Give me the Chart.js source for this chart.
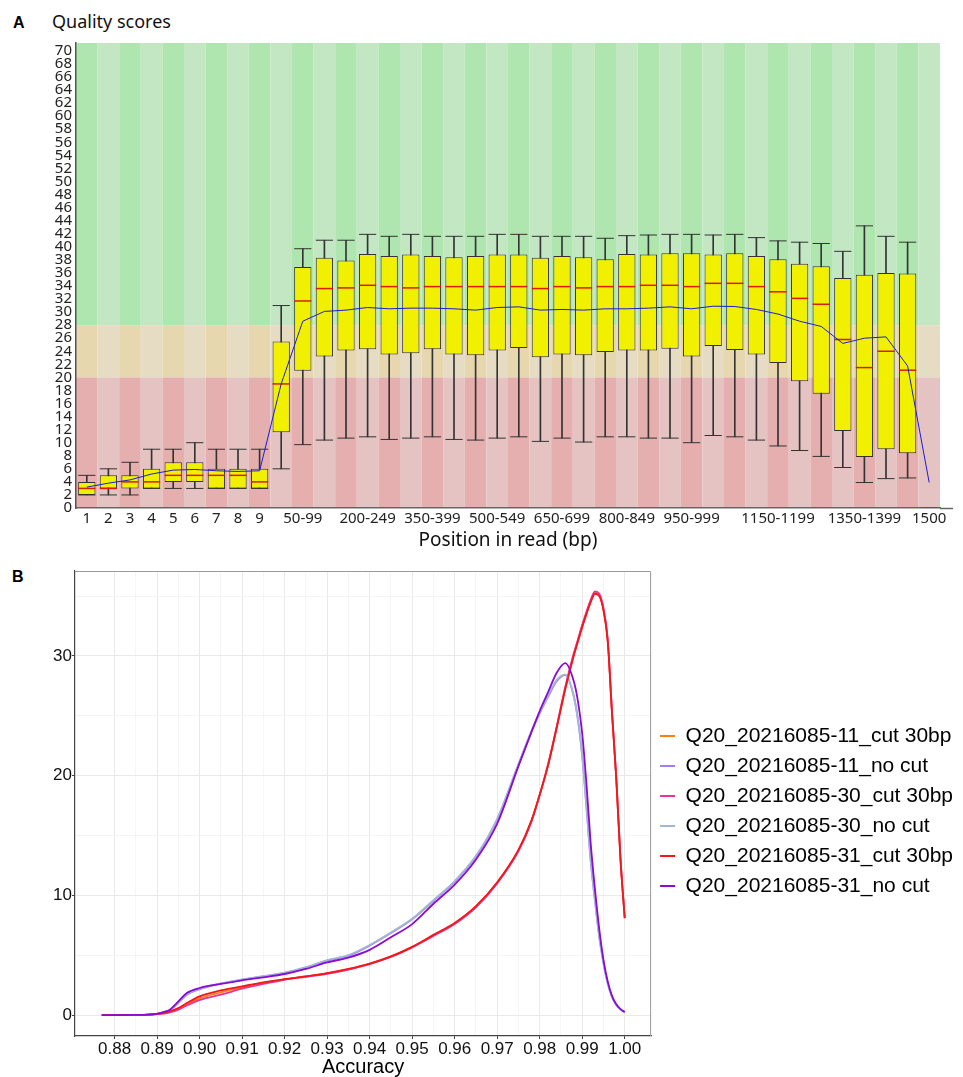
<!DOCTYPE html>
<html lang="en">
<head>
<meta charset="UTF-8">
<title>Quality scores / Accuracy</title>
<script src="https://cdn.jsdelivr.net/npm/chart.js"></script>
<style>
  body { margin: 0; background: #fff; }
  #wrap { position: relative; width: 963px; height: 1077px; overflow: hidden; }
  .panel { position: absolute; left: 0; width: 963px; }
  .tag { position: absolute; font-family: "Liberation Sans", Arial, sans-serif; font-weight: bold; font-size: 16px; line-height: 16px; color: #000; }
  .ptitle { position: absolute; left: 52px; top: 10px; font-family: "Noto Sans", sans-serif; font-size: 18px; line-height: 22px; color: #111; }
</style>
</head>
<body>
<div id="wrap">
  <div class="tag" style="left:13px; top:15px;">A</div>
  <div class="ptitle">Quality scores</div>
  <div class="panel" style="top:0; height:560px;"><canvas id="qualityChart"></canvas></div>
  <div class="tag" style="left:12px; top:569px;">B</div>
  <div class="panel" style="top:560px; height:517px;"><canvas id="accuracyChart"></canvas></div>
</div>
<script>
// ---- panel A: per base quality ----
const positions = ['1','2','3','4','5','6','7','8','9','10-49','50-99','100-149','150-199','200-249','250-299',
  '300-349','350-399','400-449','450-499','500-549','550-599','600-649','650-699','700-749','750-799','800-849',
  '850-899','900-949','950-999','1000-1049','1050-1099','1100-1149','1150-1199','1200-1249','1250-1299',
  '1300-1349','1350-1399','1400-1449','1450-1499','1500'];
const shownPositions = ['1','2','3','4','5','6','7','8','9','50-99','200-249','350-399','500-549','650-699',
  '800-849','950-999','1150-1199','1350-1399','1500'];

const lowWhisker = [2,2,2,3,3,3,3,3,3,6, 9.7,10.4,10.7,10.9,10.5,10.7,10.9,10.5,10.4,10.7,
  10.9,10.2,10.7,10.1,10.9,10.9,10.7,10.7,10.0,11.1, 10.9,10.4,9.5,8.8,7.9,6.2,3.9,4.5,4.6,null];
const lowerQuartile = [2,3,3,3,4,4,3,3,3,11.6, 21.0,23.2,24.1,24.3,23.5,23.7,24.3,23.5,23.4,24.1,
  24.5,23.1,23.5,23.4,23.9,24.1,24.1,24.4,23.2,24.8, 24.2,23.5,22.2,19.4,17.5,11.8,7.8,9.0,8.4,null];
const medianQ = [3,3,4,4,5,5,5,5,4,19, 31.7,33.6,33.7,34.1,33.9,33.7,33.9,33.9,33.9,33.9,
  33.9,33.6,33.9,33.7,33.9,33.9,34.1,34.1,33.9,34.4, 34.4,33.9,33.1,32.1,31.2,25.8,21.5,24.0,21.1,0];
const upperQuartile = [4,5,5,6,7,7,6,6,6,25.5, 36.9,38.3,37.9,38.9,38.6,38.8,38.6,38.4,38.6,38.8,
  38.8,38.3,38.6,38.4,38.1,38.9,38.8,39.0,39.0,38.8, 39.0,38.6,38.1,37.4,37.0,35.2,35.7,36.0,35.9,null];
const highWhisker = [5,6,7,9,9,10,9,9,9,31, 39.7,41.0,41.0,41.9,41.6,41.9,41.6,41.6,41.6,41.9,
  41.9,41.6,41.6,41.6,41.3,41.7,41.8,41.9,41.9,41.8, 41.9,41.4,40.9,40.7,40.5,39.3,43.2,41.6,40.7,null];
const meanQ = [3.2,3.8,4.3,5.2,5.8,5.9,5.7,5.6,5.7,19.0, 28.6,30.1,30.3,30.7,30.5,30.6,30.6,30.5,30.3,30.7,
  30.8,30.3,30.4,30.3,30.5,30.5,30.6,30.8,30.5,30.9, 30.85,30.4,29.7,28.6,27.8,25.2,26.0,26.2,21.75,3.9];

// ---- panel B: accuracy density ----
const accuracy = [0.877,0.880,0.885,0.888,0.890,0.892,0.893,0.895,0.897,0.900,0.905,0.910,0.915,0.920,0.925,
  0.930,0.935,0.940,0.945,0.950,0.955,0.960,0.965,0.970,0.975,0.978,0.980,0.982,0.984,0.986,0.988,0.989,
  0.990,0.991,0.992,0.993,0.994,0.995,0.996,0.997,0.998,0.999,1.000];
const cut11 = [0,0,0.01,0.03,0.09,0.17,0.26,0.5,0.9,1.4,1.9,2.3,2.68,2.98,3.22,3.48,3.82,4.28,4.88,5.68,
  6.65,7.65,9.05,11.05,13.75,16.15,18.4,20.95,24.05,27.3,30.1,31.3,32.5,33.6,34.6,35.3,35.1,33.9,31.3,25.3,19.8,13.0,8.1];
const nocut11 = [0,0,0.01,0.04,0.1,0.27,0.4,1.0,1.7,2.15,2.62,2.95,3.22,3.52,3.97,4.55,4.95,5.8,6.85,8.0,
  9.55,11.15,13.25,16.35,20.9,23.6,25.2,26.6,27.9,28.4,26.7,24.7,21.7,17.4,12.9,9.6,6.6,4.35,2.65,1.55,0.88,0.47,0.26];
const cut30 = [0,0,0.01,0.03,0.08,0.15,0.22,0.45,0.8,1.25,1.7,2.2,2.6,2.95,3.2,3.45,3.8,4.25,4.85,5.65,
  6.6,7.6,9.0,11.0,13.7,16.1,18.4,21.0,24.1,27.4,30.2,31.4,32.6,33.7,34.7,35.4,35.2,34.0,31.4,25.4,19.9,13.1,8.1];
const nocut30 = [0,0,0.01,0.04,0.1,0.28,0.42,1.05,1.75,2.2,2.65,2.98,3.25,3.55,4.0,4.6,5.0,5.85,6.9,8.05,
  9.6,11.2,13.3,16.4,21.0,23.7,25.3,26.7,28.0,28.45,26.6,24.6,21.6,17.3,12.8,9.5,6.5,4.3,2.6,1.5,0.85,0.45,0.25];
const cut31 = [0,0,0.01,0.04,0.1,0.2,0.3,0.58,1.0,1.56,2.06,2.4,2.73,3.0,3.23,3.5,3.85,4.3,4.9,5.7,
  6.7,7.7,9.1,11.1,13.8,16.2,18.4,20.9,24.0,27.2,30.0,31.2,32.4,33.5,34.5,35.2,35.0,33.8,31.2,25.2,19.8,13.0,8.1];
const nocut31 = [0,0,0.01,0.04,0.1,0.3,0.45,1.14,1.84,2.26,2.6,2.9,3.15,3.43,3.85,4.4,4.8,5.45,6.5,7.6,
  9.3,10.9,13.0,16.0,20.8,23.6,25.4,27.0,28.6,29.4,27.9,26.2,23.5,19.3,14.3,10.5,7.2,4.6,2.8,1.6,0.9,0.5,0.25];

const sampleNames = ['Q20_20216085-11_cut 30bp','Q20_20216085-11_no cut','Q20_20216085-30_cut 30bp',
  'Q20_20216085-30_no cut','Q20_20216085-31_cut 30bp','Q20_20216085-31_no cut'];
const sampleColors = ['#ff7f0e','#a07ff0','#e8339c','#a3b7d3','#f21818','#8a0ad6'];
const sampleSeries = [cut11, nocut11, cut30, nocut30, cut31, nocut31];

// FastQC background bands
const stripes = {
  id: 'stripes',
  beforeDraw(chart) {
    const {ctx, chartArea: a, scales: {x, y}} = chart;
    const w = (a.right - a.left) / positions.length;
    const y28 = y.getPixelForValue(28), y20 = y.getPixelForValue(20);
    ctx.save();
    positions.forEach((p, i) => {
      const cx = x.getPixelForValue(i) - w / 2;
      const dark = i % 2 === 0;
      ctx.fillStyle = dark ? 'rgb(175,230,175)' : 'rgb(195,230,195)';
      ctx.fillRect(cx, a.top, w, y28 - a.top);
      ctx.fillStyle = dark ? 'rgb(230,215,175)' : 'rgb(230,220,195)';
      ctx.fillRect(cx, y28, w, y20 - y28);
      ctx.fillStyle = dark ? 'rgb(230,175,175)' : 'rgb(230,195,195)';
      ctx.fillRect(cx, y20, w, a.bottom - y20);
    });
    // axis line runs a little past the last column
    ctx.strokeStyle = '#666';
    ctx.lineWidth = 1.5;
    ctx.beginPath();
    ctx.moveTo(a.right, a.bottom + 0.5);
    ctx.lineTo(a.right + 13, a.bottom + 0.5);
    ctx.stroke();
    ctx.restore();
  }
};

new Chart(document.getElementById('qualityChart'), {
  type: 'bar',
  data: {
    labels: positions,
    datasets: [
      {
        type: 'line', label: 'mean', data: meanQ, order: 0,
        borderColor: '#1c1cd8', borderWidth: 1, pointRadius: 0, tension: 0
      },
      {
        type: 'line', label: 'median', data: medianQ, order: 1, showLine: false,
        pointStyle: 'line', pointRadius: 8.6, pointBorderColor: '#e01a00', pointBorderWidth: 1.5
      },
      {
        type: 'line', label: '90th', data: highWhisker, order: 2, showLine: false,
        pointStyle: 'line', pointRadius: 8.6, pointBorderColor: '#333', pointBorderWidth: 1
      },
      {
        type: 'line', label: '10th', data: lowWhisker, order: 2, showLine: false,
        pointStyle: 'line', pointRadius: 8.6, pointBorderColor: '#333', pointBorderWidth: 1
      },
      {
        label: 'box', order: 3, grouped: false,
        data: lowerQuartile.map((q, i) => q === null ? null : [q, upperQuartile[i]]),
        backgroundColor: '#f0f000', borderColor: '#333', borderWidth: 1, borderSkipped: false,
        barPercentage: 0.8, categoryPercentage: 1
      },
      {
        label: 'whisker', order: 4, grouped: false,
        data: lowWhisker.map((l, i) => l === null ? null : [l, highWhisker[i]]),
        backgroundColor: '#333', borderWidth: 0, barThickness: 1
      }
    ]
  },
  options: {
    responsive: true,
    maintainAspectRatio: false,
    animation: false,
    events: [],
    layout: { padding: { top: 43, right: 23, left: 0, bottom: 0 } },
    plugins: { legend: { display: false }, tooltip: { enabled: false } },
    scales: {
      x: {
        grid: { display: false, drawTicks: false },
        border: { display: true, color: '#666', width: 1.5 },
        afterFit: (s) => { s.height = 52; },
        ticks: {
          autoSkip: false, maxRotation: 0, minRotation: 0, padding: 2,
          color: '#222', font: { family: 'Noto Sans', size: 15 },
          callback: function (v) {
            const lab = this.getLabelForValue(v);
            return shownPositions.includes(lab) ? lab : '';
          }
        },
        title: {
          display: true, text: 'Position in read (bp)', color: '#111',
          font: { family: 'Noto Sans', size: 19 }, padding: { top: 0, bottom: 8 }
        }
      },
      y: {
        min: 0, max: 71.2,
        grid: { display: false, drawTicks: false },
        border: { display: true, color: '#555', width: 1.5 },
        afterFit: (s) => { s.width = 76; },
        afterBuildTicks: (s) => {
          const t = [];
          for (let v = 0; v <= 70; v += 2) t.push({ value: v });
          s.ticks = t;
        },
        ticks: { autoSkip: false, padding: 4, color: '#222', font: { family: 'Noto Sans', size: 15 } }
      }
    }
  },
  plugins: [stripes]
});

// panel border (grey) on top/right
const panelBorder = {
  id: 'panelBorder',
  afterDraw(chart) {
    const {ctx, chartArea: a} = chart;
    ctx.save();
    ctx.strokeStyle = '#9a9a9a';
    ctx.lineWidth = 1;
    ctx.beginPath();
    ctx.moveTo(a.left, a.top + 0.5);
    ctx.lineTo(a.right - 0.5, a.top + 0.5);
    ctx.lineTo(a.right - 0.5, a.bottom);
    ctx.stroke();
    ctx.restore();
  }
};

const isMajor = (v, step) => Math.abs(v / step - Math.round(v / step)) < 1e-6;

new Chart(document.getElementById('accuracyChart'), {
  type: 'line',
  data: {
    datasets: sampleSeries.map((s, i) => ({
      label: sampleNames[i],
      data: s.map((v, j) => ({ x: accuracy[j], y: v })),
      borderColor: sampleColors[i],
      backgroundColor: sampleColors[i],
      borderWidth: 1.8,
      pointRadius: 0,
      cubicInterpolationMode: 'monotone',
      order: sampleSeries.length - 1 - i
    }))
  },
  options: {
    responsive: true,
    maintainAspectRatio: false,
    animation: false,
    events: [],
    layout: { padding: { top: 11, right: 0, left: 0, bottom: 0 } },
    plugins: {
      tooltip: { enabled: false },
      legend: {
        position: 'right', reverse: true, maxWidth: 313, align: 'start',
        // empty title only used as a spacer to drop the entries to mid height
        title: { display: true, text: ' ', font: { size: 10, lineHeight: 1 }, padding: { top: 0, bottom: 135.5 } },
        labels: {
          boxWidth: 15, boxHeight: 2, padding: 9, color: '#000',
          font: { family: 'Liberation Sans', size: 21 },
          generateLabels: (chart) => Chart.defaults.plugins.legend.labels.generateLabels(chart)
            .map((l) => Object.assign(l, { lineWidth: 0 }))
        }
      }
    },
    scales: {
      x: {
        type: 'linear', min: 0.8707, max: 1.0062,
        afterFit: (s) => { s.height = 41; },
        afterBuildTicks: (s) => {
          const t = [];
          for (let k = 0; k <= 24; k++) t.push({ value: Math.round((0.88 + k * 0.005) * 1000) / 1000 });
          s.ticks = t;
        },
        grid: {
          color: (c) => isMajor(c.tick.value, 0.01) ? '#e9e9e9' : '#f3f3f3',
          lineWidth: (c) => isMajor(c.tick.value, 0.01) ? 1 : 0.8,
          tickColor: (c) => isMajor(c.tick.value, 0.01) ? '#444' : 'rgba(0,0,0,0)',
          tickLength: 3
        },
        border: { display: true, color: '#444', width: 1.2 },
        ticks: {
          autoSkip: false, maxRotation: 0, padding: 0, color: '#111',
          font: { family: 'Liberation Sans', size: 17 },
          callback: (v) => isMajor(v, 0.01) ? v.toFixed(2) : ''
        },
        title: {
          display: true, text: 'Accuracy', color: '#000',
          font: { family: 'Liberation Sans', size: 20, lineHeight: 1 }, padding: { top: 0, bottom: 0 }
        }
      },
      y: {
        min: -1.75, max: 37.1,
        afterFit: (s) => { s.width = 75; },
        afterBuildTicks: (s) => {
          const t = [];
          for (let v = 0; v <= 35; v += 5) t.push({ value: v });
          s.ticks = t;
        },
        grid: {
          color: (c) => isMajor(c.tick.value, 10) ? '#e9e9e9' : '#f3f3f3',
          lineWidth: (c) => isMajor(c.tick.value, 10) ? 1 : 0.8,
          tickColor: (c) => isMajor(c.tick.value, 10) ? '#444' : 'rgba(0,0,0,0)',
          tickLength: 3
        },
        border: { display: true, color: '#444', width: 1.2 },
        ticks: {
          autoSkip: false, padding: 0, color: '#111',
          font: { family: 'Liberation Sans', size: 17 },
          callback: (v) => isMajor(v, 10) ? String(v) : ''
        }
      }
    }
  },
  plugins: [panelBorder]
});
</script>
</body>
</html>
